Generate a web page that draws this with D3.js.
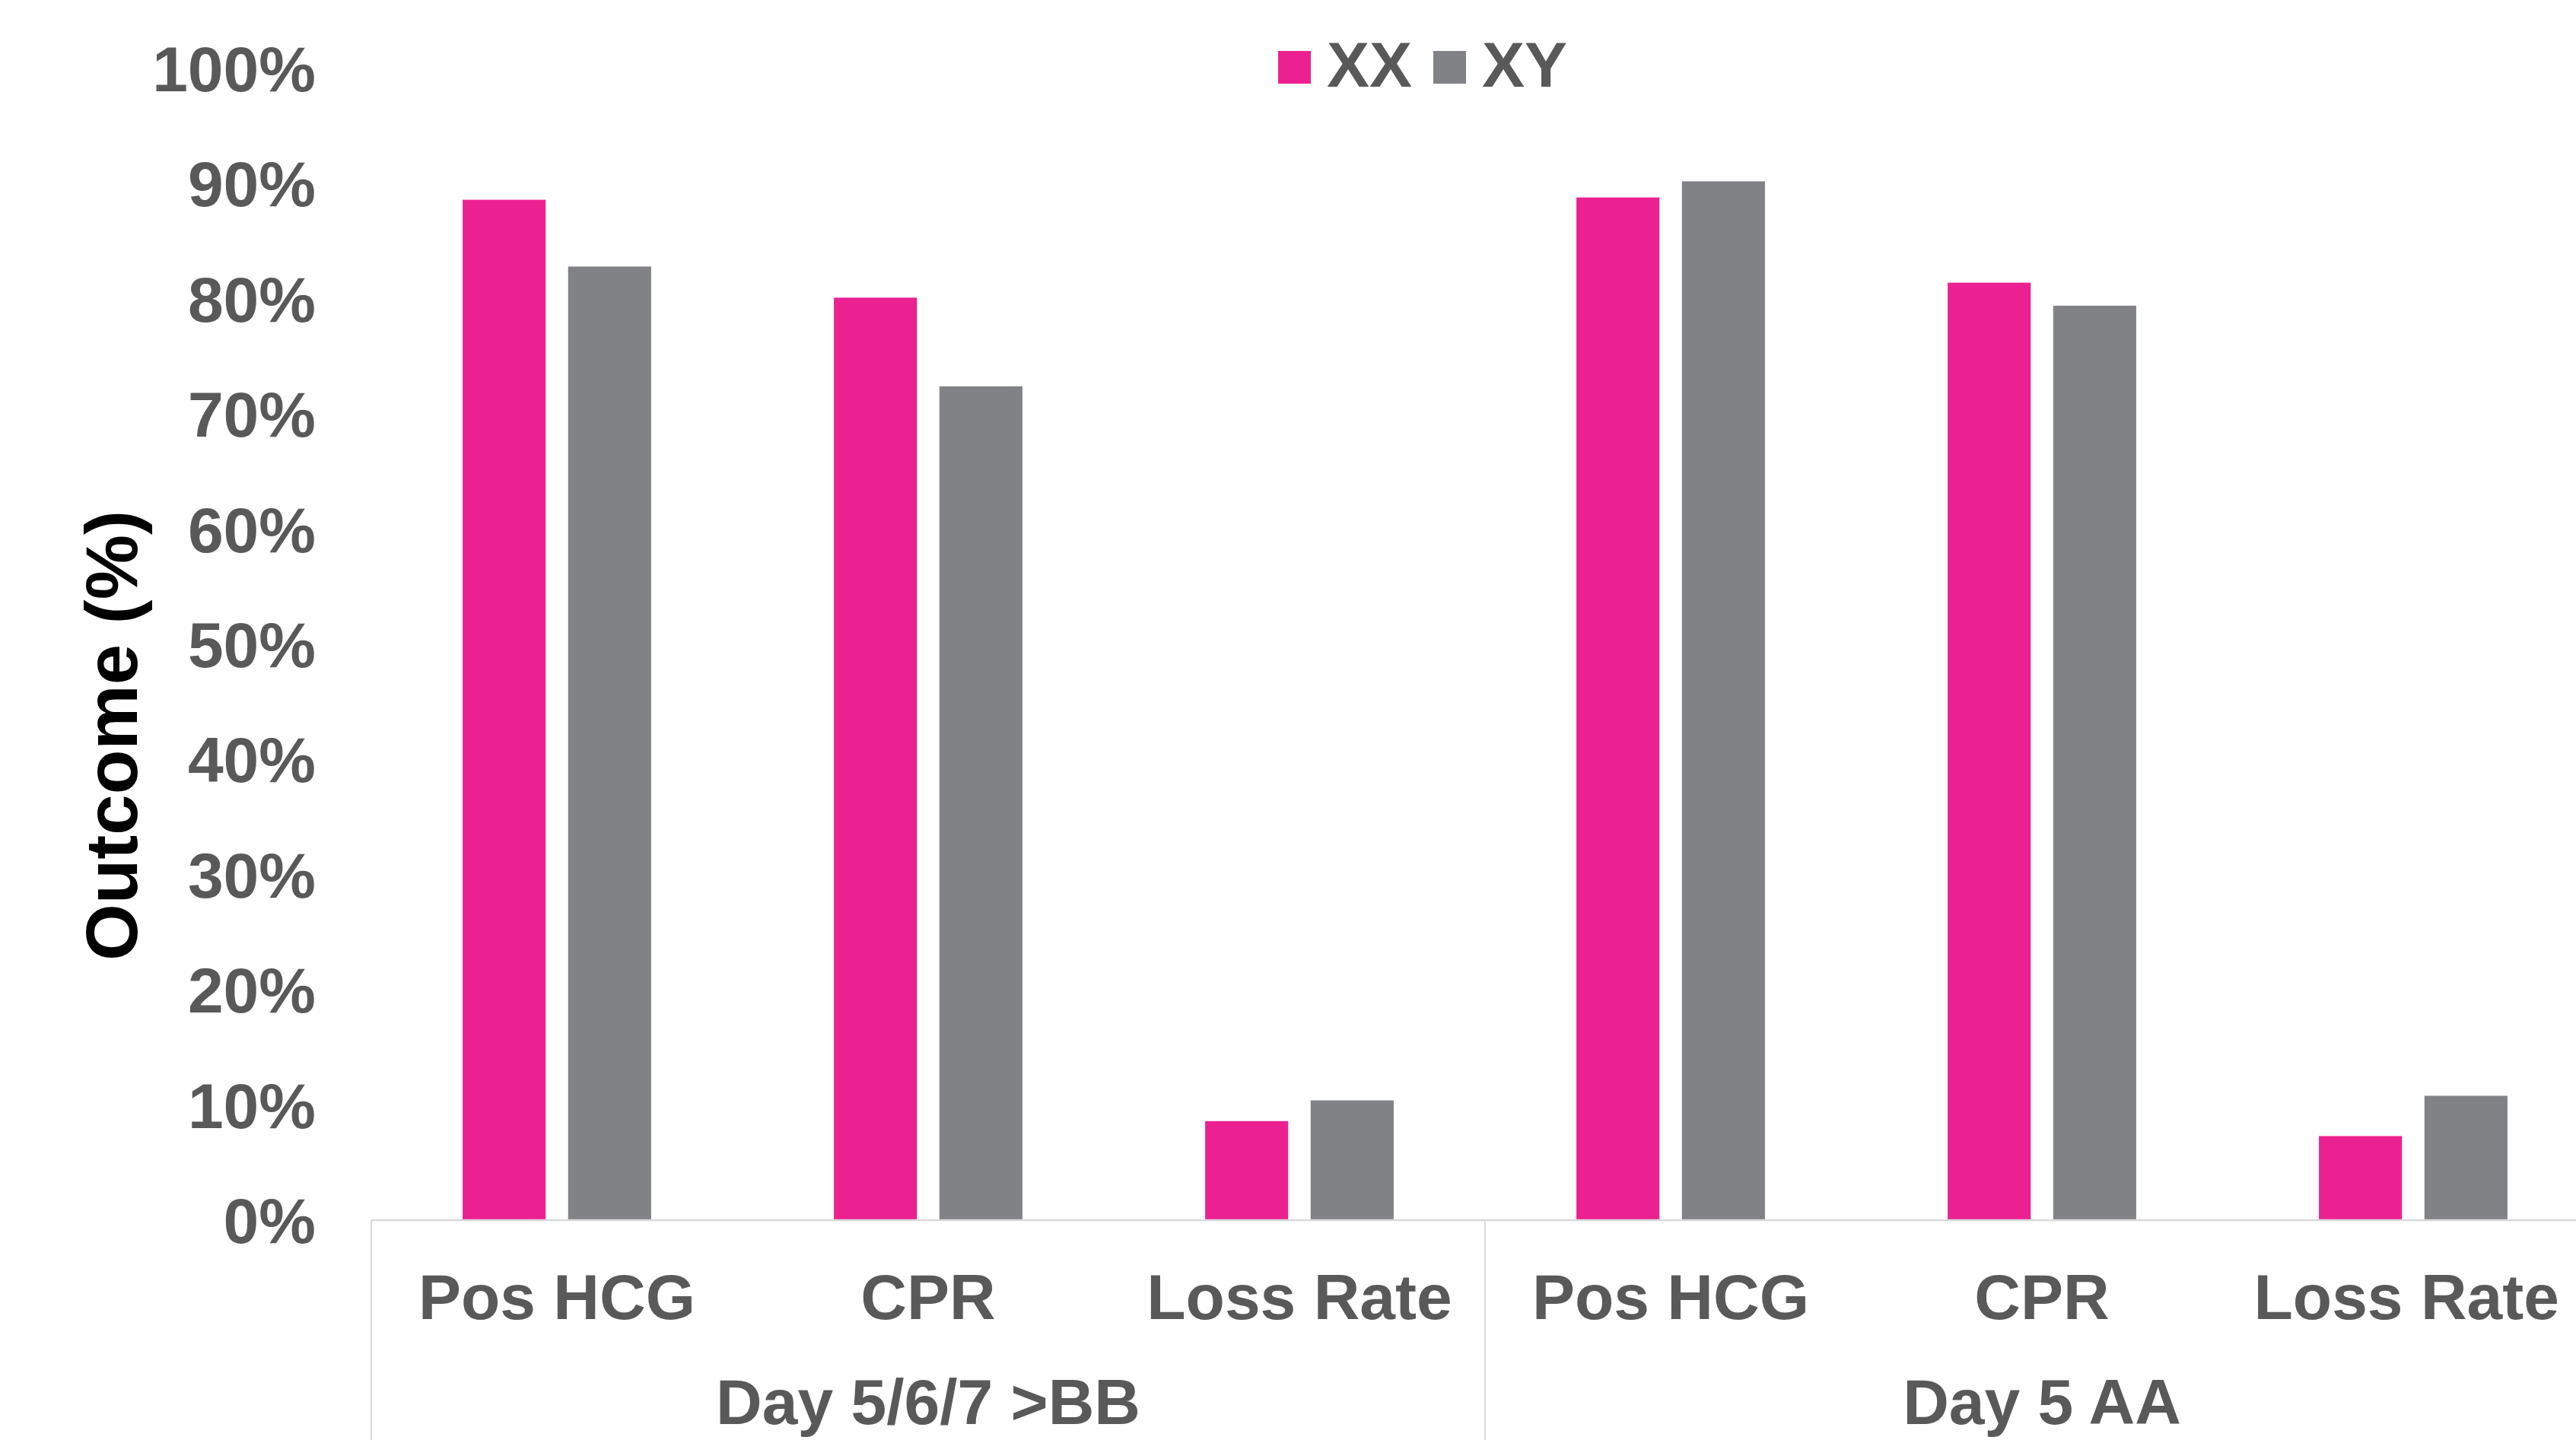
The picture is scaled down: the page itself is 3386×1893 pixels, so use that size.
<!DOCTYPE html>
<html>
<head>
<meta charset="utf-8">
<script src="https://cdn.jsdelivr.net/npm/d3@7"></script>
<style>
  html, body { margin: 0; padding: 0; background: #ffffff; overflow: hidden; }
  svg { display: block; font-family: "Liberation Sans", Arial, sans-serif; }
</style>
</head>
<body>
<svg id="chart" width="3386" height="1893"></svg>
<script>
// Outcome categories within each blastocyst grade group
const groups = ["Day 5/6/7 >BB", "Day 5 AA"];
const outcomes = ["Pos HCG", "CPR", "Loss Rate"];
const seriesNames = ["XX", "XY"];
const seriesColors = ["#ec2191", "#818286"];

// Rates per category, in group order (Day 5/6/7 >BB first, then Day 5 AA)
const xxValues = [0.886, 0.801, 0.086, 0.888, 0.814, 0.073];
const xyValues = [0.828, 0.724, 0.104, 0.902, 0.794, 0.108];

const yTicks = [0, 0.1, 0.2, 0.3, 0.4, 0.5, 0.6, 0.7, 0.8, 0.9, 1.0];

const svg = d3.select("#chart");
const viewWidth = 3386;
const labelGrey = "#595959";
const lineGrey = "#d9d9d9";

const plotLeft = 488, plotRight = 3416, plotTop = 90, plotBottom = 1604;

// one entry per category slot
const slots = [];
groups.forEach((g, gi) => outcomes.forEach((o, oi) => {
  const i = gi * outcomes.length + oi;
  slots.push({ key: g + "|" + o, group: g, outcome: o, values: [xxValues[i], xyValues[i]] });
}));

const x0 = d3.scaleBand()
  .domain(slots.map(d => d.key))
  .range([plotLeft, plotRight])
  .paddingInner(0).paddingOuter(0);

const x1 = d3.scaleBand()
  .domain(seriesNames)
  .range([0, x0.bandwidth()])
  .paddingInner(0.213)
  .paddingOuter(0.866);

const y = d3.scaleLinear().domain([0, 1]).range([plotBottom, plotTop]);

// bars
const slotG = svg.append("g").selectAll("g")
  .data(slots).join("g")
  .attr("transform", d => `translate(${x0(d.key)},0)`);

slotG.selectAll("rect")
  .data(d => d.values.map((v, i) => ({ name: seriesNames[i], value: v, color: seriesColors[i] })))
  .join("rect")
  .attr("x", d => x1(d.name))
  .attr("width", x1.bandwidth())
  .attr("y", d => y(d.value))
  .attr("height", d => y(0) - y(d.value))
  .attr("fill", d => d.color);

// y axis: labels only
const yAxis = d3.axisLeft(y)
  .tickValues(yTicks)
  .tickFormat(d3.format(".0%"))
  .tickSize(0)
  .tickPadding(73);

const yAxisG = svg.append("g")
  .attr("transform", `translate(${plotLeft},0)`)
  .call(yAxis);
yAxisG.select(".domain").remove();
yAxisG.selectAll("text")
  .attr("font-family", "Liberation Sans, Arial, sans-serif")
  .attr("font-size", 84)
  .attr("font-weight", "bold")
  .attr("fill", labelGrey)
  .attr("dy", "0.35em");

// y axis title
svg.append("text")
  .attr("transform", `translate(180,967) rotate(-90)`)
  .attr("text-anchor", "middle")
  .attr("font-size", 96)
  .attr("font-weight", "bold")
  .attr("fill", "#000000")
  .text("Outcome (%)");

// category axis baseline
svg.append("line")
  .attr("x1", plotLeft).attr("x2", plotRight)
  .attr("y1", plotBottom).attr("y2", plotBottom)
  .attr("stroke", lineGrey).attr("stroke-width", 2.5);

// group separators extending below the axis
const groupEdges = [0, outcomes.length, slots.length].map(i =>
  i < slots.length ? x0(slots[i].key) : x0(slots[slots.length - 1].key) + x0.bandwidth());
svg.append("g").selectAll("line")
  .data(groupEdges).join("line")
  .attr("x1", d => d).attr("x2", d => d)
  .attr("y1", plotBottom).attr("y2", 1900)
  .attr("stroke", lineGrey).attr("stroke-width", 2);

// outcome labels, kept inside the visible area
svg.append("g").selectAll("text")
  .data(slots).join("text")
  .attr("x", d => x0(d.key) + x0.bandwidth() / 2)
  .attr("y", 1734)
  .attr("text-anchor", "middle")
  .attr("font-size", 84)
  .attr("font-weight", "bold")
  .attr("fill", labelGrey)
  .text(d => d.outcome)
  .each(function () {
    const b = this.getBBox();
    const overflow = b.x + b.width - (viewWidth - 22);
    if (overflow > 0) d3.select(this).attr("x", +d3.select(this).attr("x") - overflow);
  });

// group labels
svg.append("g").selectAll("text")
  .data(groups).join("text")
  .attr("x", (g, gi) => (groupEdges[gi] + groupEdges[gi + 1]) / 2)
  .attr("y", 1872)
  .attr("text-anchor", "middle")
  .attr("font-size", 84)
  .attr("font-weight", "bold")
  .attr("fill", labelGrey)
  .text(g => g);

// legend
const legendX = [1680, 1884];
const legend = svg.append("g").selectAll("g")
  .data(seriesNames).join("g")
  .attr("transform", (d, i) => `translate(${legendX[i]},0)`);
legend.append("rect")
  .attr("x", 0).attr("y", 67)
  .attr("width", 43).attr("height", 43)
  .attr("fill", (d, i) => seriesColors[i]);
legend.append("text")
  .attr("x", 64).attr("y", 114)
  .attr("font-size", 84)
  .attr("font-weight", "bold")
  .attr("fill", labelGrey)
  .text(d => d);
</script>
</body>
</html>
